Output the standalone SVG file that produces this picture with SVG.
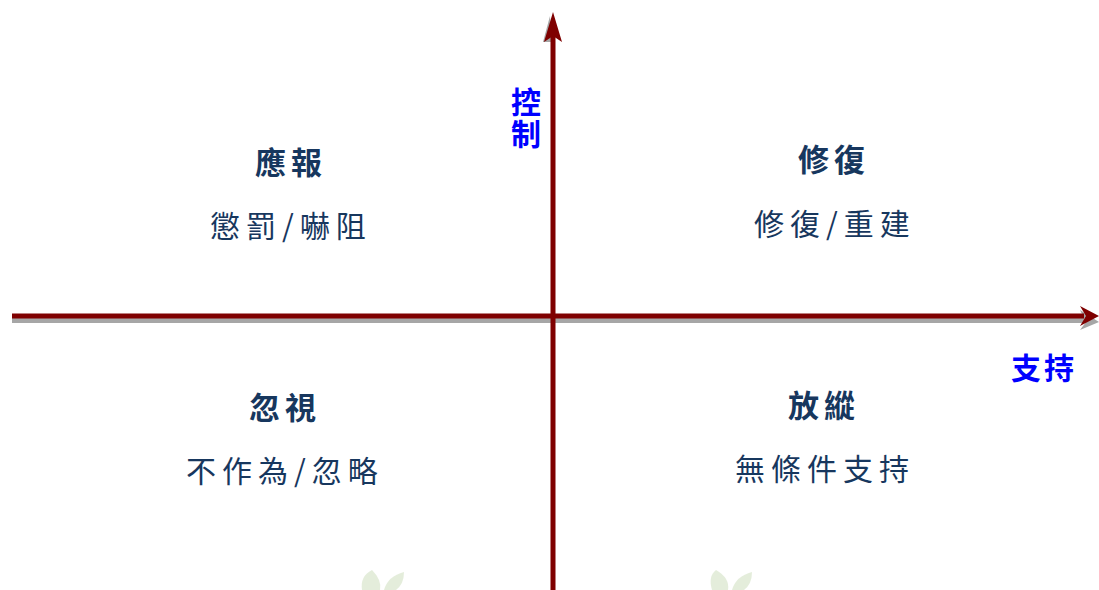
<svg xmlns="http://www.w3.org/2000/svg" width="1099" height="590" viewBox="0 0 1099 590">
<style>
.title{font-family:"Noto Sans CJK TC","Noto Sans CJK SC",sans-serif;font-weight:bold;font-size:31px;fill:#17375E;text-anchor:middle;letter-spacing:5px}
.sub{font-family:"Noto Sans CJK TC","Noto Sans CJK SC",sans-serif;font-size:30px;fill:#17375E;text-anchor:middle;letter-spacing:6px}
.axis{font-family:"Noto Sans CJK TC","Noto Sans CJK SC",sans-serif;font-weight:bold;font-size:30px;fill:#0000FF;text-anchor:middle}
.leaf{fill:#DDE8D2;opacity:0.8}
</style>
<rect width="1099" height="590" fill="#FFFFFF"/>
<g id="watermark">
<path class="leaf" d="M362,590 Q360,576 372,570 Q382,580 380,590 Z"/>
<path class="leaf" d="M384,590 Q388,576 404,572 Q404,584 396,590 Z"/>
<path class="leaf" d="M712,590 Q708,576 716,570 Q730,578 728,590 Z"/>
<path class="leaf" d="M732,590 Q736,576 752,572 Q752,584 744,590 Z"/>
</g>
<g id="connectors">
<g id="shadow" fill="#A6A6A6">
<rect x="12" y="318" width="1072" height="5"/>
<polygon points="1080,310 1099,322 1080,330 1086,322"/>
<polygon points="543,42 550,16 552,42"/>
</g>
<g id="h-axis" fill="#7F0000">
<rect x="12" y="313.5" width="1072" height="5"/>
<polygon points="1080,306 1099,316 1080,326 1086,316"/>
</g>
<g id="v-axis" fill="#7F0000">
<rect x="550.5" y="36" width="5" height="554"/>
<polygon points="553,12 562,42 553,36 544,42"/>
</g>
</g>
<g id="label-control"><text class="axis" x="526" y="87" style="writing-mode:vertical-rl;text-anchor:start" letter-spacing="2">控制</text></g>
<g id="label-support"><text class="axis" x="1044" y="379" letter-spacing="3">支持</text></g>
<g id="q-retribution"><text class="title" x="291" y="174">應報</text><text class="sub" x="291" y="237">懲罰/嚇阻</text></g>
<g id="q-restorative"><text class="title" x="834" y="171">修復</text><text class="sub" x="835" y="235">修復/重建</text></g>
<g id="q-neglect"><text class="title" x="285" y="419">忽視</text><text class="sub" x="285" y="482">不作為/忽略</text></g>
<g id="q-permissive"><text class="title" x="824" y="417">放縱</text><text class="sub" x="825" y="480">無條件支持</text></g>
</svg>
